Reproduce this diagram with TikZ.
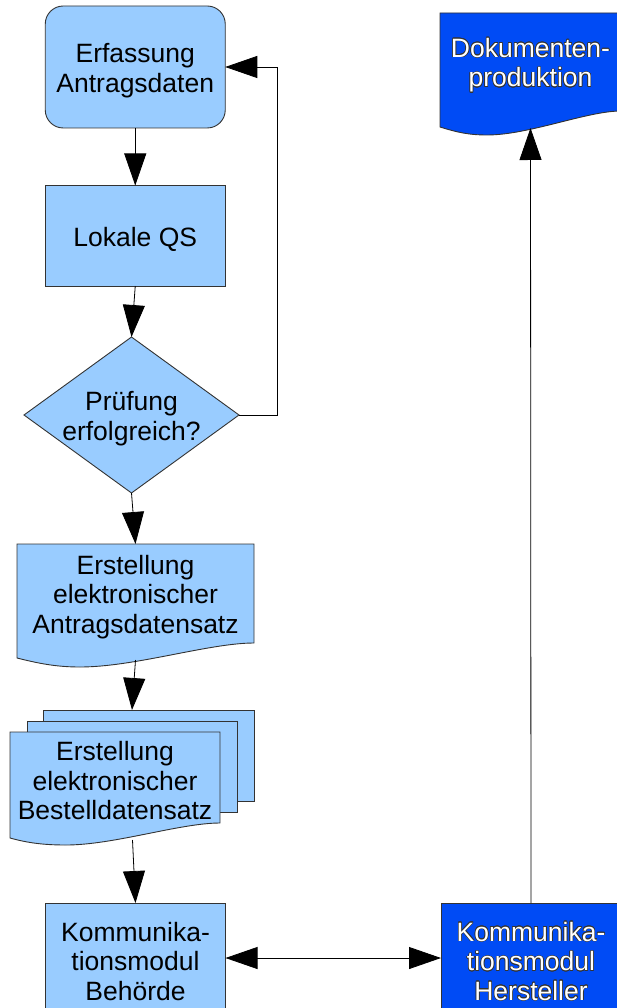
\documentclass[tikz,border=0pt]{standalone}
\usepackage{fontspec}
\setmainfont{Liberation Sans}
\usepackage{contour}
\contourlength{0.6pt}
\usetikzlibrary{arrows.meta,calc,backgrounds}
\definecolor{lightfill}{HTML}{99CCFF}
\definecolor{darkfill}{RGB}{0,75,245}
\definecolor{edge}{HTML}{333333}
% one text line, drawn a little lower while keeping its own box size
\newcommand{\tline}[1]{\raisebox{-3.5pt}[\height][\depth]{#1}}
% one outlined text line
\newcommand{\outl}[1]{\raisebox{-3.5pt}[\height][\depth]{\contour{edge}{#1}}}

\begin{document}
\begin{tikzpicture}[x=1pt,y=-1pt,
  lbl/.style={font=\fontsize{26.5}{29.5}\selectfont, align=center, inner sep=0pt, outer sep=0pt, shape=rectangle},
  box/.style={lbl, draw=edge, fill=lightfill, line width=0.9pt},
  darkbox/.style={lbl, draw=edge, fill=darkfill, line width=0.9pt, text=white},
  region/.style={lbl},
  outline/.style={draw=edge, line width=0.9pt},
  conn/.style={draw=black, line width=0.8pt, -{Triangle[length=32pt,width=22pt]}},
  both/.style={{Triangle[length=32pt,width=22pt]}-{Triangle[length=32pt,width=22pt]}},
]
\useasboundingbox (0,0) rectangle (617,1008);
\clip (0,0) rectangle (617,1008);

% process steps
\node[box, rounded corners=18pt, minimum width=180pt, minimum height=122pt] (erf) at (135.25,67) {\tline{Erfassung}\\\tline{Antragsdaten}};
\node[box, minimum width=180pt, minimum height=100.5pt] (qs) at (135.25,235.75) {\tline{Lokale QS}};
\node[region, minimum width=215pt, minimum height=156pt] (dia) at (131.5,415) {\tline{Prüfung}\\\tline{erfolgreich?}};
\node[region, minimum width=237pt, minimum height=99pt] (doc1) at (135.5,593.5) {\tline{Erstellung}\\\tline{elektronischer}\\\tline{Antragsdatensatz}};
\node[region, minimum width=210pt, minimum height=91pt] (multi) at (115,777.5) {\tline{Erstellung}\\\tline{elektronischer}\\\tline{Bestelldatensatz}};
\node[box, minimum width=180pt, minimum height=110pt] (beh) at (135.5,958) {\tline{Kommunika-}\\\tline{tionsmodul}\\\tline{Behörde}};
\node[darkbox, minimum width=180pt, minimum height=110pt] (her) at (531,958) {\outl{Kommunika-}\\\outl{tionsmodul}\\\outl{Hersteller}};
\node[region, minimum width=181pt, minimum height=98pt, text=white] (dok) at (530.5,62) {\outl{Dokumenten-}\\\outl{produktion}};

% outlines of the decision and the document shapes
\begin{scope}[on background layer]
  \path[outline, fill=lightfill] (dia.north) -- (dia.east) -- (dia.south) -- (dia.west) -- cycle;
  \path[outline, fill=lightfill] (doc1.north west) -- (doc1.north east) -- (doc1.south east)
    .. controls +(-45,0) and +(55,0) .. ($(doc1.south west)+(63,24)$)
    .. controls +(-25,0) and +(20,5) .. ($(doc1.south west)+(0,15)$) -- cycle;
  \path[outline, fill=lightfill] ($(multi.north west)+(33,-22)$) rectangle ($(multi.south east)+(34,-22)$);
  \path[outline, fill=lightfill] ($(multi.north west)+(17,-11)$) rectangle ($(multi.south east)+(17,-11)$);
  \path[outline, fill=lightfill] (multi.north west) -- (multi.north east) -- (multi.south east)
    .. controls +(-40,0) and +(48,0) .. ($(multi.south west)+(56,22)$)
    .. controls +(-22,0) and +(18,5) .. ($(multi.south west)+(0,15)$) -- cycle;
  \path[outline, fill=darkfill] (dok.north west) -- (dok.north east) -- (dok.south east)
    .. controls +(-34,0) and +(42,0) .. ($(dok.south west)+(47,24)$)
    .. controls +(-19,0) and +(16,5) .. ($(dok.south west)+(0,16)$) -- cycle;
\end{scope}

% connector ends on the wavy edges and the stacked pages
\coordinate (d1out) at ($(doc1.south)+(0,17)$);
\coordinate (mtop) at ($(multi.north)+(17,-22)$);
\coordinate (mout) at ($(multi.south)+(17.5,17)$);
\coordinate (dokin) at ($(dok.south)+(0,17)$);

% connectors
\draw[conn] (erf.south) -- (qs.north);
\draw[conn] (qs.south) -- (dia.north);
\draw[conn] (dia.south) -- (doc1.north);
\draw[conn] (d1out) -- (mtop);
\draw[conn] (mout) -- (beh.north);
\draw[conn] (dia.east) -- ++(38,0) |- (erf.east);
\draw[conn] (her.north) -- (dokin);
\draw[conn, both] (beh.east) -- (her.west);
\end{tikzpicture}
\end{document}
